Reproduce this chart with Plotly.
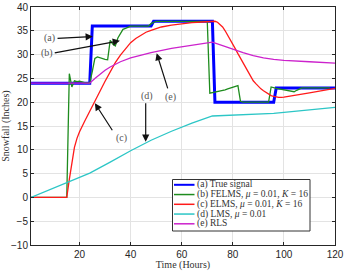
import plotly.graph_objects as go

# ---- data ----
t_true = [1, 24, 25, 48, 49, 72, 73, 96, 97, 120]
v_true = [24, 24, 36, 36, 37, 37, 20, 20, 23, 23]

t_felms = list(range(1, 121))
v_felms = ([0] * 15 +
           [26, 23.2, 24.5, 24.3, 24.4, 24.2, 24.1, 24, 24,
            26.5, 29.2, 29.5, 29.3, 29.2, 29.0, 28.9, 33.0, 32.2, 31.8, 33.5,
            34.5, 35.3, 35.5, 35.8, 36, 36, 36, 36, 36, 36, 36, 36, 36.5, 36.8,
            37, 37, 37, 37, 37, 37, 37, 37, 37, 37, 37, 37, 37, 37, 37, 37, 37,
            37, 37, 37, 37,
            21.9, 22.0, 22.1, 22.2, 22.3, 22.4, 22.6, 22.8, 23.0, 23.2, 23.4, 23.5,
            20.2, 20, 20, 20, 20, 20, 20, 20, 20, 20, 20, 20,
            23.2, 23.0, 22.9, 22.8, 22.7, 22.6, 22.5, 22.4, 22.3, 22.2, 22.5,
            22.8, 23, 23, 23, 23, 23, 23, 23, 23, 23, 23, 23, 23])

t_elms = [1, 15, 16, 17, 18, 19, 20, 22, 24, 26, 28, 30, 32, 34, 36, 38, 40,
          42, 44, 46, 48, 52, 56, 60, 64, 68, 72, 73, 74, 75, 76, 77, 78, 79,
          80, 81, 82, 83, 84, 85, 86, 87, 88, 89, 90, 91, 92, 93, 94, 95, 96,
          97, 98, 99, 100, 110, 120]
v_elms = [0, 0, 3.8, 7.6, 10.5, 12.4, 13.8, 16.0, 18.0, 20.1, 22.3, 24.4,
          26.5, 28.3, 29.9, 31.3, 32.5, 33.4, 34.1, 34.7, 35.1, 35.8, 36.2,
          36.5, 36.7, 36.85, 37.0, 37.0, 36.8, 36.4, 35.8, 35.0, 34.1, 33.1,
          32.2, 31.2, 30.2, 29.2, 28.2, 27.2, 26.2, 25.3, 24.5, 23.9, 23.3,
          22.8, 22.4, 22.0, 21.7, 21.4, 21.2, 21.05, 21.0, 21.0, 21.05, 21.95,
          22.9]

t_lms = [1, 24, 32, 40, 48, 56, 64, 72, 96, 120]
v_lms = [0, 5.1, 7.4, 9.8, 12.0, 13.9, 15.6, 17.1, 17.65, 18.9]

t_rls = [1, 24, 26, 28, 30, 32, 36, 40, 44, 48, 56, 64, 72, 76, 80, 84, 88,
         92, 96, 100, 110, 120]
v_rls = [24, 24, 25.0, 25.9, 26.7, 27.4, 28.5, 29.3, 29.9, 30.4, 31.3, 32.0,
         32.6, 31.9, 31.1, 30.4, 29.8, 29.3, 29.0, 28.8, 28.5, 28.2]

names = ["(a) True signal",
         "(b) FELMS, <i>μ</i> = 0.01, <i>K</i> = 16",
         "(c) ELMS, <i>μ</i> = 0.01, <i>K</i> = 16",
         "(d) LMS, <i>μ</i> = 0.01",
         "(e) RLS"]
colors = ["#0000FF", "#1E8C1E", "#FF1A1A", "#2CC6C6", "#CC22CC"]
widths = [3, 1.3, 1.3, 1.3, 1.3]

# annotation labels: (text, text_x, text_y, tail_x, tail_y, head_x, head_y)
labels = [("(a)", 8.4, 33.4, 10.8, 33.4, 25.2, 33.8),
          ("(b)", 7.1, 30.3, 9.7, 30.3, 35.8, 32.9),
          ("(c)", 36.5, 12.4, 33.2, 13.8, 26.0, 19.8),
          ("(d)", 46.3, 21.4, 45.9, 20.1, 45.9, 11.7),
          ("(e)", 55.7, 21.0, 54.7, 22.6, 50.2, 30.3)]

SERIF = "Liberation Serif"
SANS = "Liberation Sans"

fig = go.Figure()
series = [(t_true, v_true), (t_felms, v_felms), (t_elms, v_elms),
          (t_lms, v_lms), (t_rls, v_rls)]
for (tx, vy), nm, c, w in zip(series, names, colors, widths):
    fig.add_trace(go.Scatter(x=tx, y=vy, mode="lines", name=nm,
                             line=dict(color=c, width=w), showlegend=False))

for txt, tx, ty, ax, ay, hx, hy in labels:
    fig.add_annotation(x=tx, y=ty, text=txt, showarrow=False,
                       font=dict(family=SERIF, size=10, color="#555555"))
    fig.add_annotation(x=hx, y=hy, ax=ax, ay=ay, axref="x", ayref="y",
                       text="", showarrow=True, arrowhead=2, arrowsize=1.2,
                       arrowwidth=1.2, arrowcolor="#111111")

# ---- legend box (drawn in paper coordinates) ----
PW, PH = 304.0, 238.0  # plot area in px
def px_x(p):
    return (p - 31) / PW
def px_y(p):
    return (245 - p) / PH

fig.add_shape(type="rect", xref="paper", yref="paper",
              x0=px_x(172.5), x1=px_x(310), y0=px_y(231), y1=px_y(179.5),
              line=dict(color="#333333", width=1), fillcolor="white", layer="above")
for i, (nm, c) in enumerate(zip(names, colors)):
    yy = px_y(184.8 + 9.75 * i)
    fig.add_shape(type="line", xref="paper", yref="paper",
                  x0=px_x(174), x1=px_x(194.5), y0=yy, y1=yy,
                  line=dict(color=c, width=2 if i == 0 else 1.5), layer="above")
    fig.add_annotation(xref="paper", yref="paper", x=px_x(195.5), y=yy,
                       text=nm, showarrow=False, xanchor="left", yanchor="middle",
                       font=dict(family=SERIF, size=9.5, color="#333333"))

fig.update_layout(
    width=344, height=271,
    margin=dict(l=31, r=9, t=7, b=26, autoexpand=False),
    paper_bgcolor="white", plot_bgcolor="white",
    font=dict(family=SANS, size=10, color="#262626"),
    showlegend=False,
)
fig.update_xaxes(range=[1, 120], tickvals=[20, 40, 60, 80, 100, 120],
                 showgrid=True, gridcolor="#E3E3E3", gridwidth=1,
                 showline=True, linecolor="#262626", linewidth=1,
                 mirror="ticks", ticks="inside", ticklen=3, tickcolor="#262626",
                 zeroline=False, automargin=False,
                 title=dict(text="Time (Hours)", standoff=5,
                            font=dict(family=SERIF, size=10, color="#333333")))
fig.update_yaxes(range=[-10, 40], tickvals=list(range(-10, 41, 5)),
                 showgrid=True, gridcolor="#E3E3E3", gridwidth=1,
                 showline=True, linecolor="#262626", linewidth=1,
                 mirror="ticks", ticks="inside", ticklen=3, tickcolor="#262626",
                 zeroline=False, automargin=False,
                 title=dict(text="Snowfall (Inches)", standoff=5,
                            font=dict(family=SERIF, size=10, color="#333333")))

fig.write_html("out.html")
